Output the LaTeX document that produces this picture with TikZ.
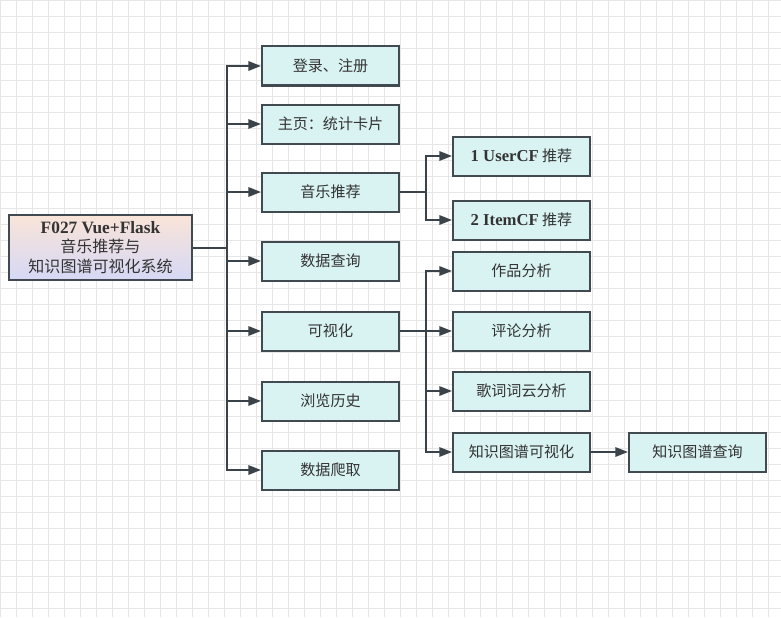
\documentclass[tikz,border=0pt]{standalone}
\usepackage{fontspec}
\setmainfont{Liberation Serif}
\newfontfamily\cjk{Noto Sans CJK SC}
\usetikzlibrary{arrows.meta}
\definecolor{boxfill}{HTML}{D9F2F2}
\definecolor{boxdraw}{HTML}{414A51}
\definecolor{txt}{HTML}{333333}
\definecolor{gridc}{HTML}{E6E6E6}
\definecolor{rtop}{HTML}{F9E4D8}
\definecolor{rbot}{HTML}{D6D8F6}
\tikzset{
  px/.style={x=0.75pt,y=-0.75pt},
  item/.style={draw=boxdraw, line width=1.5pt, fill=boxfill, minimum width=137*0.75pt, minimum height=39*0.75pt, inner sep=0pt, text=txt, font=\cjk\fontsize{11.3}{13}\selectfont},
  rootbox/.style={draw=boxdraw, line width=1.5pt, top color=rtop, bottom color=rbot, minimum width=183*0.75pt, minimum height=65*0.75pt, inner sep=0pt, text=txt, align=center, font=\fontsize{12}{14.6}\selectfont},
  conn/.style={draw=boxdraw!90!black, line width=1.5pt, -{Triangle[length=9.5pt,width=7pt]}},
  plain/.style={draw=boxdraw!90!black, line width=1.5pt}
}
\begin{document}
\begin{tikzpicture}[px]
\useasboundingbox (0,0) rectangle (781,617);
\fill[white] (0,0) rectangle (781,617);
\foreach \x in {0,16,...,781} \draw[gridc, line width=0.6pt] (\x,0) -- (\x,617);
\foreach \y in {0,16,...,617} \draw[gridc, line width=0.6pt] (0,\y) -- (781,\y);

\node[rootbox] (root) at (100.5,247.5) {{\fontsize{13}{14.6}\selectfont\bfseries F027 Vue+Flask}\\{\cjk 音乐推荐与}\\{\cjk 知识图谱可视化系统}};

\node[item] (login) at (330.5,66) {登录、注册};
\node[item] (home) at (330.5,124) {主页：统计卡片};
\node[item] (rec) at (330.5,192) {音乐推荐};
\node[item] (query) at (330.5,261) {数据查询};
\node[item] (vis) at (330.5,331) {可视化};
\node[item] (hist) at (330.5,401) {浏览历史};
\node[item] (crawl) at (330.5,470) {数据爬取};

\node[item] (ucf) at (521.5,156) {{\rmfamily\bfseries\fontsize{12.5}{13}\selectfont 1 UserCF} 推荐};
\node[item] (icf) at (521.5,220) {{\rmfamily\bfseries\fontsize{12.5}{13}\selectfont 2 ItemCF} 推荐};

\node[item] (works) at (521.5,271) {作品分析};
\node[item] (comm) at (521.5,331) {评论分析};
\node[item] (lyric) at (521.5,391) {歌词词云分析};
\node[item] (kgv) at (521.5,452) {知识图谱可视化};
\node[item] (kgq) at (697.5,452) {知识图谱查询};

\coordinate (t1) at (227,247.5);
\coordinate (t2) at (426,192);
\coordinate (t3) at (426,331);

\draw[plain] (root.east) -- (t1);
\foreach \c in {login,home,rec,query,vis,hist,crawl} \draw[conn] (t1) |- (\c.west);
\draw[plain] (rec.east) -- (t2);
\foreach \c in {ucf,icf} \draw[conn] (t2) |- (\c.west);
\draw[plain] (vis.east) -- (t3);
\foreach \c in {works,comm,lyric,kgv} \draw[conn] (t3) |- (\c.west);
\draw[conn] (kgv.east) -- (kgq.west);
\end{tikzpicture}
\end{document}
